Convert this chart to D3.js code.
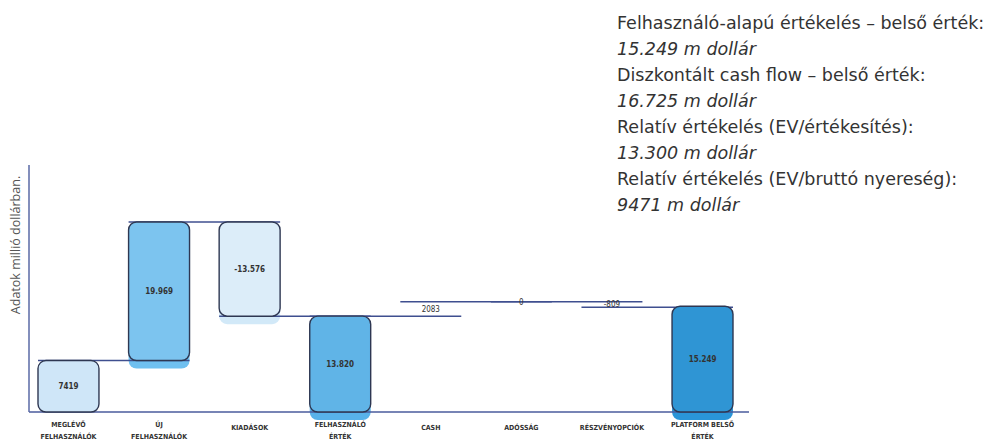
<!DOCTYPE html>
<html><head><meta charset="utf-8">
<script src="https://cdn.jsdelivr.net/npm/d3@7"></script>
<style>
html,body{margin:0;padding:0;background:#fff;}
svg{display:block;}
</style></head>
<body>
<svg id="chart" width="990" height="442"></svg>
<script>
const categories = [
  ["MEGLÉVŐ","FELHASZNÁLÓK"],
  ["ÚJ","FELHASZNÁLÓK"],
  ["KIADÁSOK"],
  ["FELHASZNÁLÓ","ÉRTÉK"],
  ["CASH"],
  ["ADÓSSÁG"],
  ["RÉSZVÉNYOPCIÓK"],
  ["PLATFORM BELSŐ","ÉRTÉK"]
];
const values = [7419, 19969, -13576, 13820, 2083, 0, -809, 15249];
const kinds = ["total","delta","delta","total","delta","delta","delta","total"];
const valueLabels = ["7419","19.969","-13.576","13.820","2083","0","-809","15.249"];
const boxed = [true, true, true, true, false, false, false, true];
const yAxisTitle = "Adatok millió dollárban.";
const notes = [
  {text:"Felhasználó-alapú értékelés – belső érték:", italic:false},
  {text:"15.249 m dollár", italic:true},
  {text:"Diszkontált cash flow – belső érték:", italic:false},
  {text:"16.725 m dollár", italic:true},
  {text:"Relatív értékelés (EV/értékesítés):", italic:false},
  {text:"13.300 m dollár", italic:true},
  {text:"Relatív értékelés (EV/bruttó nyereség):", italic:false},
  {text:"9471 m dollár", italic:true}
];

// styles
const barFill = ["#cfe6f8","#7cc4ef","#dcedf9","#60b4e7","none","none","none","#2f95d4"];
const shadowFill = ["none","#6fc0f0","#d2e9f8","#58b2ea","none","none","none","#2a95d8"];

const svg = d3.select("#chart");

// compute waterfall
let running = 0;
const data = values.map((v,i)=>{
  let start, end;
  if (kinds[i]==="total"){ start=0; end=v; }
  else { start=running; end=running+v; }
  running = end;
  return {i, v, start, end, lines:categories[i], label:valueLabels[i], boxed:boxed[i]};
});

const x = d3.scaleBand().domain(d3.range(values.length)).range([38,733]).paddingInner(0.327).paddingOuter(0);
const y = d3.scaleLinear().domain([0, d3.max(data, d=>Math.max(d.start,d.end))]).range([412,222]);

const bw = x.bandwidth();

// shadows
svg.append("g").selectAll("rect").data(data.filter(d=>d.boxed && shadowFill[d.i]!=="none")).join("rect")
  .attr("x", d=>x(d.i))
  .attr("y", d=>y(Math.max(d.start,d.end))+8)
  .attr("width", bw)
  .attr("height", d=>Math.abs(y(d.start)-y(d.end)))
  .attr("rx", 8)
  .attr("fill", d=>shadowFill[d.i]);

// connectors
const conn = [];
for (let i=0;i<data.length-1;i++){
  conn.push({y:data[i].end, x1:x(i), x2:x(i+1)+bw});
}
svg.append("g").selectAll("line").data(conn).join("line")
  .attr("x1", d=>d.x1).attr("x2", d=>d.x2)
  .attr("y1", d=>y(d.y)).attr("y2", d=>y(d.y))
  .attr("stroke","#3f4f8f").attr("stroke-width",1.5);

// baseline & y axis
svg.append("line").attr("x1",29).attr("x2",749).attr("y1",y(0)).attr("y2",y(0))
  .attr("stroke","#4a5b9c").attr("stroke-width",1.6);
svg.append("line").attr("x1",29).attr("x2",29).attr("y1",165).attr("y2",y(0))
  .attr("stroke","#5a6aa6").attr("stroke-width",1.5);

// bars
svg.append("g").selectAll("rect").data(data.filter(d=>d.boxed)).join("rect")
  .attr("x", d=>x(d.i))
  .attr("y", d=>y(Math.max(d.start,d.end)))
  .attr("width", bw)
  .attr("height", d=>Math.abs(y(d.start)-y(d.end)))
  .attr("rx", 8)
  .attr("fill", d=>barFill[d.i])
  .attr("stroke","#2e3752").attr("stroke-width",1.4);

// value labels
svg.append("g").selectAll("text").data(data).join("text")
  .attr("x", d=>x(d.i)+bw/2)
  .attr("y", d=>(y(d.start)+y(d.end))/2 + 3)
  .attr("text-anchor","middle")
  .style("font-family","'DejaVu Sans Condensed','DejaVu Sans',sans-serif")
  .attr("font-weight", d=>d.boxed?"bold":"normal")
  .attr("font-size", 8)
  .attr("fill","#333")
  .text(d=>d.label);

// category labels
const cl = svg.append("g").selectAll("text").data(data).join("text")
  .attr("text-anchor","middle")
  .style("font-family","'DejaVu Sans Condensed','DejaVu Sans',sans-serif")
  .attr("font-weight","bold")
  .attr("font-size",7)
  .attr("fill","#333");
cl.each(function(d){
  const t = d3.select(this);
  const n = d.lines.length;
  d.lines.forEach((ln,k)=>{
    t.append("tspan").attr("x", x(d.i)+bw/2)
      .attr("y", n===1 ? 430 : 427 + k*12)
      .text(ln);
  });
});

// y axis title
svg.append("text")
  .attr("transform","translate(20,245) rotate(-90)")
  .attr("text-anchor","middle")
  .style("font-family","'Open Sans',sans-serif")
  .attr("font-weight","400")
  .attr("font-size",12.5)
  .attr("fill","#555")
  .text(yAxisTitle);

// notes
const nt = svg.append("g").selectAll("text").data(notes).join("text")
  .attr("x",617)
  .attr("y",(d,i)=>29+i*26)
  .style("font-family","'DejaVu Sans',sans-serif")
  .attr("font-size",15)
  .attr("font-style",d=>d.italic?"italic":"normal")
  .attr("fill","#333")
  .text(d=>d.text);
const w0 = nt.nodes()[0].getComputedTextLength();
const fs = Math.min(17.5, 15*368/w0);
nt.attr("font-size", fs);
</script>
</body></html>
